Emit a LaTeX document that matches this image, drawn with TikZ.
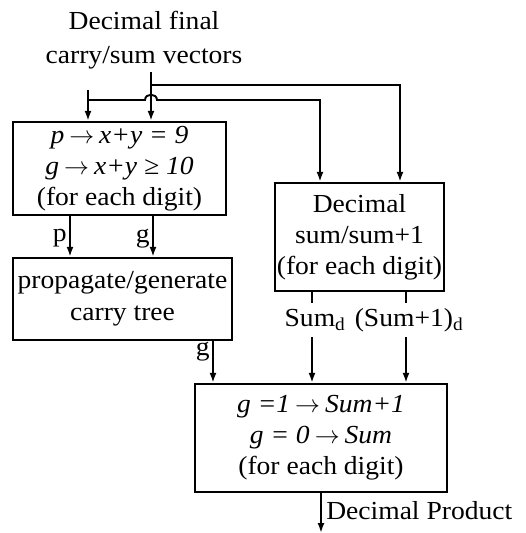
\documentclass[tikz,border=0pt]{standalone}
\usepackage{fontspec}
\setmainfont{Liberation Serif}[FakeStretch=1.06]
\newcommand{\rarr}{\kern5pt$\rightarrow$\kern5pt}
\usetikzlibrary{arrows.meta,positioning}
\tikzset{>={Latex[length=10pt,width=7pt]}}
\tikzset{blk/.style={draw, line width=2.3pt, align=center, inner sep=0pt},
  wire/.style={line width=1.9pt}}
\begin{document}
\begin{tikzpicture}[x=1pt,y=-1pt,font=\fontsize{26}{31}\selectfont]
  \useasboundingbox (0,0) rectangle (526,533);
  % blocks
  \node[align=center] (title) at (144,40) {Decimal final\\[3pt]carry/sum vectors};
  \node[blk, minimum width=213pt, minimum height=93pt] (pg) at (119.5,168.5)
    {\itshape p\rarr{}x+y = 9\\\itshape g\rarr{}x+y ≥ 10\\(for each digit)};
  \node[blk, minimum width=219pt, minimum height=82pt] (tree) at (122.5,299)
    {propagate/generate\\[1pt]carry tree};
  \node[blk, minimum width=169pt, minimum height=108pt] (dsum) at (359.5,237)
    {Decimal\\sum/sum+1\\(for each digit)};
  \node[blk, minimum width=252pt, minimum height=108pt] (sel) at (321,438)
    {\itshape g =1\rarr{}Sum+1\\\itshape g = 0\rarr{}Sum\\(for each digit)};
  \node (sumd) at (315,320) {Sum\textsubscript{d}};
  \node (sumpd) at (409,320) {(Sum+1)\textsubscript{d}};
  \coordinate (in) at (151,72);
  \coordinate (in2) at (88,90);
  \coordinate (out) at (321,533);
  % inputs
  \draw[wire,->] (in) -- (in |- pg.north);
  \draw[wire,->] (151,85) -| (400,0 |- dsum.north);
  \draw[wire,->] (in2) -- (in2 |- pg.north);
  \draw[wire,->] (88,100) -- (145,100) .. controls (145,93) and (157,93) .. (157,100)
    -| (320,0 |- dsum.north);
  % p and g
  \draw[wire,->] (70,0 |- pg.south) -- node[left=-1pt,pos=0.55] {p} (70,0 |- tree.north);
  \draw[wire,->] (153,0 |- pg.south) -- node[left=-1pt,pos=0.55] {g} (153,0 |- tree.north);
  \draw[wire,->] (213,0 |- tree.south) -- node[left=-1pt,pos=0.25] {g} (213,0 |- sel.north);
  % sums
  \draw[wire] (312,0 |- dsum.south) -- (312,303);
  \draw[wire,->] (312,337) -- (312,0 |- sel.north);
  \draw[wire] (406,0 |- dsum.south) -- (406,303);
  \draw[wire,->] (406,337) -- (406,0 |- sel.north);
  % output
  \draw[wire,->] (sel.south) -- node[right=1pt,pos=0.45] {Decimal Product} (out);
\end{tikzpicture}
\end{document}
